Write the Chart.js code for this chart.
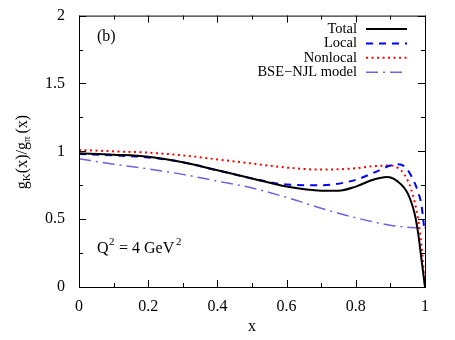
<!DOCTYPE html>
<html>
<head>
<meta charset="utf-8">
<script src="https://cdn.jsdelivr.net/npm/chart.js@4"></script>
<style>
  html, body { margin: 0; padding: 0; background: #fff; }
  #wrap { width: 455px; height: 340px; }
</style>
</head>
<body>
<div id="wrap"><canvas id="ratioChart" width="455" height="340"></canvas></div>
<script>
// ---- data ----
const xTotal   = [0, 0.1, 0.2, 0.3, 0.4, 0.5, 0.6, 0.7, 0.75, 0.8, 0.85, 0.89, 0.92, 0.95, 0.97, 0.98, 0.99, 0.995, 1.0];
const yTotal   = [0.985, 0.975, 0.96, 0.92, 0.86, 0.80, 0.74, 0.71, 0.71, 0.74, 0.79, 0.81, 0.78, 0.69, 0.54, 0.40, 0.20, 0.10, 0.0];

const xLocal   = [0, 0.1, 0.2, 0.3, 0.4, 0.5, 0.6, 0.7, 0.8, 0.85, 0.9, 0.92, 0.94, 0.96, 0.98, 0.99, 0.997];
const yLocal   = [0.98, 0.97, 0.955, 0.92, 0.86, 0.80, 0.755, 0.75, 0.79, 0.84, 0.895, 0.905, 0.89, 0.82, 0.70, 0.60, 0.45];

const xNonloc  = [0, 0.1, 0.2, 0.3, 0.4, 0.5, 0.6, 0.7, 0.8, 0.85, 0.9, 0.92, 0.94, 0.96, 0.98, 0.99, 0.995, 1.0];
const yNonloc  = [1.01, 1.0, 0.99, 0.97, 0.94, 0.91, 0.88, 0.865, 0.875, 0.89, 0.895, 0.88, 0.83, 0.72, 0.50, 0.30, 0.15, 0.0];

const xBse     = [0, 0.1, 0.2, 0.3, 0.4, 0.5, 0.6, 0.7, 0.8, 0.9, 0.95, 1.0];
const yBse     = [0.945, 0.905, 0.87, 0.83, 0.78, 0.73, 0.66, 0.58, 0.51, 0.455, 0.44, 0.435];

const xTicks = [0, 0.2, 0.4, 0.6, 0.8, 1];
const yTicks = [0, 0.5, 1, 1.5, 2];

const pts = (xs, ys) => xs.map((x, i) => ({ x: x, y: ys[i] }));
const SERIF = "'Liberation Serif', 'DejaVu Serif', serif";

// ---- axes box, inward ticks, labels, legend (gnuplot look) ----
const decor = {
  id: "decor",
  afterDatasetsDraw(chart) {
    const { ctx, chartArea: a, scales } = chart;
    const sx = scales.x, sy = scales.y;
    ctx.save();
    ctx.strokeStyle = "#000";
    ctx.lineWidth = 1;
    ctx.strokeRect(a.left + 0.5, a.top + 0.5, a.right - a.left, a.bottom - a.top);
    ctx.beginPath();
    for (let v = 0; v <= 1.0001; v += 0.1) {
      const p = Math.round(sx.getPixelForValue(v)) + 0.5;
      const len = (Math.round(v * 10) % 2 === 0) ? 7 : 4;
      ctx.moveTo(p, a.bottom); ctx.lineTo(p, a.bottom - len);
      ctx.moveTo(p, a.top); ctx.lineTo(p, a.top + len);
    }
    for (let v = 0; v <= 2.0001; v += 0.25) {
      const p = Math.round(sy.getPixelForValue(v)) + 0.5;
      const len = (Math.round(v * 4) % 2 === 0) ? 7 : 4;
      ctx.moveTo(a.left, p); ctx.lineTo(a.left + len, p);
      ctx.moveTo(a.right, p); ctx.lineTo(a.right - len, p);
    }
    ctx.stroke();

    ctx.fillStyle = "#000";
    ctx.font = "16px " + SERIF;
    ctx.textBaseline = "middle";
    ctx.textAlign = "left";
    ctx.fillText("(b)", 97, 37);

    // Q^2 = 4 GeV^2
    ctx.fillText("Q", 97, 249);
    ctx.font = "11px " + SERIF;
    ctx.fillText("2", 109, 242);
    ctx.font = "16px " + SERIF;
    ctx.fillText("= 4 GeV", 119, 249);
    ctx.font = "11px " + SERIF;
    ctx.fillText("2", 176, 242);

    // legend
    const rows = chart.data.datasets;
    rows.forEach((ds, i) => {
      const y = 29 + i * 14.4;
      ctx.font = "14.5px " + SERIF;
      ctx.textAlign = "right";
      ctx.fillStyle = "#000";
      ctx.fillText(ds.label, 357, y);
      ctx.beginPath();
      ctx.strokeStyle = ds.borderColor;
      ctx.lineWidth = ds.borderWidth;
      ctx.setLineDash(ds.borderDash || []);
      ctx.moveTo(366, y); ctx.lineTo(407, y);
      ctx.stroke();
      ctx.setLineDash([]);
    });

    // y axis title  g_K(x)/g_pi(x)
    ctx.translate(23, 152);
    ctx.rotate(-Math.PI / 2);
    const parts = [["g", 16, 0], ["K", 11, 4], ["(x)/g", 16, 0], ["\u03c0", 11, 4], ["(x)", 16, 0]];
    let w = 0;
    parts.forEach(p => { ctx.font = p[1] + "px " + SERIF; w += ctx.measureText(p[0]).width + (p[0] === "(x)" ? 3 : 0); });
    let cx = -w / 2;
    ctx.textAlign = "left";
    ctx.fillStyle = "#000";
    parts.forEach(p => {
      if (p[0] === "(x)") cx += 3;
      ctx.font = p[1] + "px " + SERIF;
      ctx.fillText(p[0], cx, p[2]);
      cx += ctx.measureText(p[0]).width;
    });
    ctx.restore();
  }
};

const ctx = document.getElementById("ratioChart").getContext("2d");
const chart = new Chart(ctx, {
  type: "line",
  data: {
    datasets: [
      { label: "Total", data: pts(xTotal, yTotal), borderColor: "#000000", borderWidth: 2 },
      { label: "Local", data: pts(xLocal, yLocal), borderColor: "#0000ff", borderWidth: 2, borderDash: [7, 6] },
      { label: "Nonlocal", data: pts(xNonloc, yNonloc), borderColor: "#ff0000", borderWidth: 2, borderDash: [2, 3.5] },
      { label: "BSE\u2212NJL model", data: pts(xBse, yBse), borderColor: "#7060e0", borderWidth: 1.5, borderDash: [12, 5, 2, 5] }
    ]
  },
  options: {
    responsive: false,
    animation: false,
    devicePixelRatio: 1,
    layout: { padding: { top: 15, right: 30, left: 0, bottom: 0 } },
    elements: { point: { radius: 0 }, line: { cubicInterpolationMode: "monotone", fill: false } },
    plugins: { legend: { display: false }, tooltip: { enabled: false } },
    scales: {
      x: {
        type: "linear", min: 0, max: 1,
        grid: { display: false },
        border: { display: false },
        afterFit(s) { s.height = 53; },
        afterBuildTicks(s) { s.ticks = xTicks.map(v => ({ value: v })); },
        ticks: { color: "#000", font: { family: SERIF, size: 16 }, padding: 2, maxRotation: 0,
                 callback: v => String(v) },
        title: { display: true, text: "x", color: "#000", font: { family: SERIF, size: 16 }, padding: { top: 8 } }
      },
      y: {
        type: "linear", min: 0, max: 2,
        grid: { display: false },
        border: { display: false },
        afterFit(s) { s.width = 79; },
        afterBuildTicks(s) { s.ticks = yTicks.map(v => ({ value: v })); },
        ticks: { color: "#000", font: { family: SERIF, size: 16 }, padding: 6,
                 callback: v => String(v) }
      }
    }
  },
  plugins: [decor]
});
</script>
</body>
</html>
